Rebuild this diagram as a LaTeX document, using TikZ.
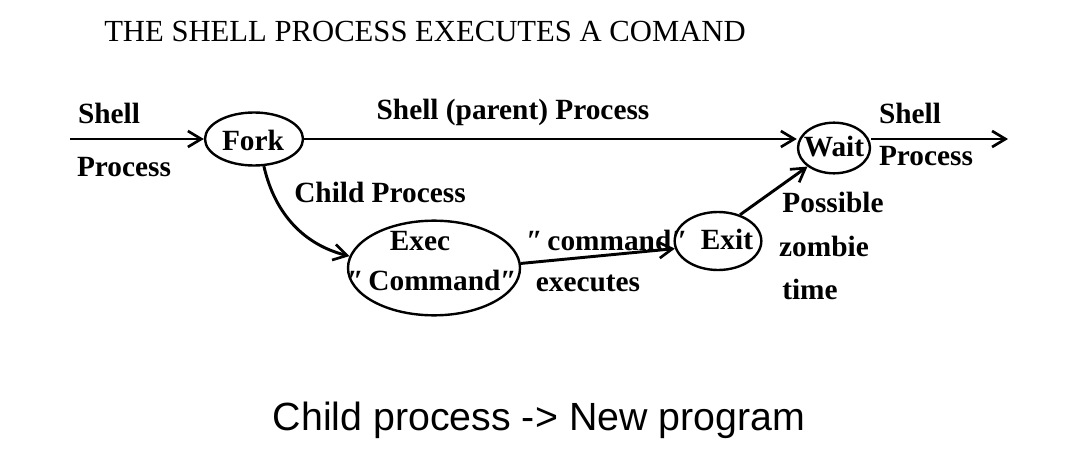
\documentclass[tikz,border=0pt]{standalone}
\usepackage{fontspec}
\setmainfont{Liberation Serif}
\newfontfamily\capfont{Liberation Sans}
\usetikzlibrary{shapes.geometric,arrows.meta}
\newcommand{\qq}{″}
\begin{document}
\begin{tikzpicture}[x=0.75pt,y=-0.75pt,
  lbl/.style={font=\fontsize{22}{24}\selectfont\bfseries, inner sep=0pt},
  oval/.style={ellipse, draw, line width=1.8pt, inner sep=0pt},
  conn/.style={line width=2.2pt, -{Straight Barb[length=10pt,width=12pt,line width=2pt]}},
]
\useasboundingbox[fill=white] (0,0) rectangle (1078,460);
\node[font=\fontsize{23}{25}\selectfont, inner sep=0pt] (title) at (425,31) {THE SHELL PROCESS EXECUTES A COMAND};

\node[oval, minimum width=73.5pt, minimum height=39.75pt] (fork) at (254,139) {};
\node[oval, minimum width=54pt, minimum height=38pt] (wait) at (834,148) {};
\node[oval, minimum width=65pt, minimum height=43.5pt] (exit) at (718,241) {};
\node[oval, minimum width=129pt, minimum height=71pt] (exec) at (434,268) {};

\coordinate (in) at (70,139);
\coordinate (out) at (1008,139);

\draw[conn] (in) -- (fork.west);
\draw[conn] (fork.east) -- (fork.east -| wait.west);
\draw[conn] (out -| wait.east) -- (out);
\draw[conn] (fork.-70) .. controls (275,215) and (305,245) .. (exec.172);
\draw[conn] (exec.3) -- (exit.190);
\draw[conn] (exit.50) -- (wait.215);

\node[lbl] (t1) at (253,140) {Fork};
\node[lbl] (t2) at (834,147) {Wait};
\node[lbl] (l1) at (109,113) {Shell};
\node[lbl] (l2) at (124,167) {Process};
\node[lbl] (l3) at (513,112) {Shell (parent) Process};
\node[lbl] (l4) at (380,192) {Child Process};
\node[lbl] (l5) at (420,241) {Exec};
\node[lbl] (l6) at (432,280) {\qq\,Command\qq};
\node[lbl] (l7) at (607,240) {\qq\,command\qq};
\node[lbl] (l8) at (588,283) {executes};
\node[lbl] (l9) at (727,239) {Exit};
\node[lbl] (l10) at (910,113) {Shell};
\node[lbl] (l11) at (926,156) {Process};
\node[lbl] (l12) at (833,202) {Possible};
\node[lbl] (l13) at (824,246) {zombie};
\node[lbl] (l14) at (810,289) {time};

\node[font=\capfont\fontsize{29.5}{31}\selectfont, inner sep=0pt] (cap) at (539,420) {Child process -> New program};
\end{tikzpicture}
\end{document}
